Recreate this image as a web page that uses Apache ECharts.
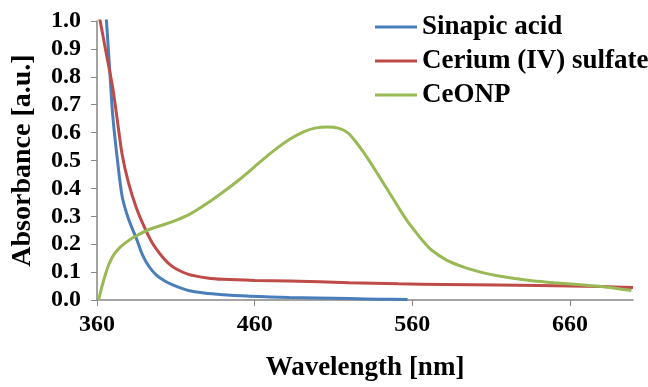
<!DOCTYPE html>
<html>
<head>
<meta charset="utf-8">
<script src="https://cdn.jsdelivr.net/npm/echarts@6/dist/echarts.min.js"></script>
<style>
  html, body { margin: 0; padding: 0; background: #fff; }
  #chart { width: 648px; height: 387px; }
</style>
</head>
<body>
<div id="chart"></div>
<script>
// wavelength [nm] / absorbance [a.u.]
const sinapicX = [364, 366, 368, 370, 373, 376, 380, 385, 389, 393, 397.5, 403, 408, 418, 428, 440, 455, 470, 482, 500, 520, 540, 557];
const sinapicY = [1.15, 1.0, 0.83, 0.66, 0.5, 0.37, 0.29, 0.22, 0.16, 0.12, 0.09, 0.068, 0.054, 0.034, 0.025, 0.019, 0.014, 0.011, 0.009, 0.007, 0.005, 0.003, 0.002];

const ceriumX = [360, 362, 366, 370, 373, 376, 380, 385, 390, 395, 400, 405, 410, 418, 430, 440, 460, 482, 520, 551, 580, 614, 640, 660, 680, 700];
const ceriumY = [1.05, 1.0, 0.88, 0.76, 0.64, 0.52, 0.42, 0.33, 0.262, 0.205, 0.165, 0.133, 0.112, 0.092, 0.079, 0.074, 0.07, 0.068, 0.062, 0.058, 0.056, 0.054, 0.052, 0.05, 0.048, 0.045];

const ceonpX = [361, 363, 365, 367, 369, 371, 374, 377, 381, 386, 392, 400, 408, 418, 429, 440, 450, 460, 471, 482, 491, 499, 506, 513, 519, 524, 529, 534, 539, 546, 552, 557, 562, 567, 572, 582, 594, 604, 614, 625, 636, 650, 667, 680, 690, 699];
const ceonpY = [0, 0.045, 0.085, 0.12, 0.145, 0.165, 0.185, 0.2, 0.217, 0.233, 0.25, 0.266, 0.281, 0.305, 0.343, 0.387, 0.43, 0.478, 0.53, 0.575, 0.603, 0.617, 0.62, 0.616, 0.6, 0.568, 0.53, 0.488, 0.443, 0.38, 0.325, 0.282, 0.245, 0.21, 0.18, 0.142, 0.115, 0.099, 0.087, 0.077, 0.069, 0.062, 0.055, 0.048, 0.041, 0.034];

const xTicks = [360, 460, 560, 660];
const seriesNames = ['Sinapic acid', 'Cerium (IV) sulfate', 'CeONP'];
const colors = ['#4A7EBB', '#BE4B48', '#98B954'];

const font = '"Liberation Serif", "Times New Roman", serif';

function pairs(xs, ys) {
  return xs.map((x, i) => [x, ys[i]]);
}

const chart = echarts.init(document.getElementById('chart'), null, { renderer: 'canvas' });

const option = {
  animation: false,
  color: colors,
  grid: {
    left: 97,
    right: 15,
    top: 21,
    bottom: 81,
    containLabel: false
  },
  legend: {
    orient: 'vertical',
    left: 370,
    top: 8,
    itemWidth: 42,
    itemHeight: 3,
    itemGap: 6,
    icon: 'rect',
    textStyle: {
      fontFamily: font,
      fontWeight: 'bold',
      fontSize: 27,
      lineHeight: 28,
      color: '#000'
    },
    data: seriesNames
  },
  xAxis: {
    type: 'value',
    min: 360,
    max: 700,
    interval: 100,
    name: 'Wavelength [nm]',
    nameLocation: 'middle',
    nameGap: 55,
    nameTextStyle: { fontFamily: font, fontWeight: 'bold', fontSize: 27, color: '#000' },
    axisLine: { lineStyle: { color: '#868686', width: 1.5 } },
    axisTick: { show: true, length: 6, customValues: xTicks, lineStyle: { color: '#868686' } },
    axisLabel: {
      customValues: xTicks,
      margin: 13,
      fontFamily: font, fontWeight: 'bold', fontSize: 24, color: '#000'
    },
    splitLine: { show: false }
  },
  yAxis: {
    type: 'value',
    min: 0,
    max: 1,
    interval: 0.1,
    name: 'Absorbance [a.u.]',
    nameLocation: 'middle',
    nameRotate: 90,
    nameGap: 60,
    nameTextStyle: { fontFamily: font, fontWeight: 'bold', fontSize: 28, color: '#000' },
    axisLine: { show: true, lineStyle: { color: '#868686', width: 1.5 } },
    axisTick: { show: true, length: 6, lineStyle: { color: '#868686' } },
    axisLabel: {
      margin: 16,
      formatter: v => v.toFixed(1),
      fontFamily: font, fontWeight: 'bold', fontSize: 24, color: '#000'
    },
    splitLine: { show: false }
  },
  series: [
    { name: seriesNames[0], type: 'line', data: pairs(sinapicX, sinapicY) },
    { name: seriesNames[1], type: 'line', data: pairs(ceriumX, ceriumY) },
    { name: seriesNames[2], type: 'line', data: pairs(ceonpX, ceonpY) }
  ].map(s => Object.assign(s, {
    showSymbol: false,
    smooth: 0.3,
    clip: true,
    lineStyle: { width: 3 }
  }))
};

chart.setOption(option);
</script>
</body>
</html>
